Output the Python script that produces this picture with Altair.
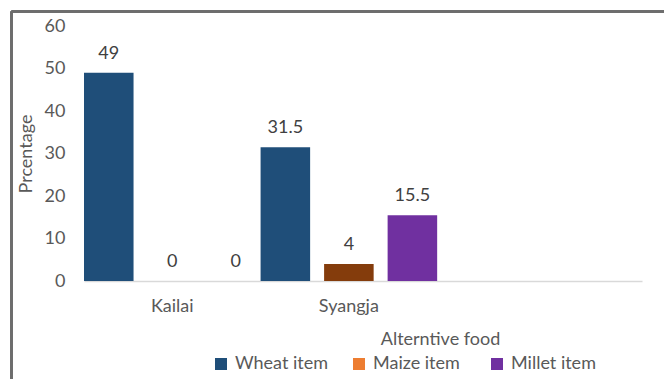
import altair as alt
import pandas as pd

districts = ["Kailai", "Syangja"]
series = ["Wheat item", "Maize item", "Millet item"]
wheat = [49, 31.5]
maize = [0, 4]
millet = [0, 15.5]

bar_colors = ["#1F4E79", "#843C0C", "#7030A0"]
legend_colors = ["#1F4E79", "#ED7D31", "#7030A0"]

rows = []
for i, d in enumerate(districts):
    for s, vals in zip(series, [wheat, maize, millet]):
        rows.append({"district": d, "series": s, "legend_key": s, "value": vals[i]})
df = pd.DataFrame(rows)

FONT = "Lato"
TXT = "#595959"

x_enc = alt.X(
    "district:N",
    sort=districts,
    scale=alt.Scale(domain=districts, paddingInner=0, paddingOuter=0.58, align=0),
    axis=alt.Axis(
        title="Alterntive food",
        titleX=356, titleY=58, titleBaseline="middle", titleAlign="center",
        titleFontSize=18, titleFontWeight="normal", titleColor=TXT, titleFont=FONT,
        labelAngle=0, labelFontSize=18, labelColor=TXT, labelFont=FONT,
        labelPadding=16, ticks=False, domainColor="#D9D9D9", domainWidth=1.5,
        grid=False,
    ),
)
xoff_enc = alt.XOffset(
    "series:N", sort=series,
    scale=alt.Scale(domain=series, paddingInner=0.22, paddingOuter=0),
)
y_enc = alt.Y(
    "value:Q",
    scale=alt.Scale(domain=[0, 60], nice=False),
    axis=alt.Axis(
        title="Prcentage", values=[0, 10, 20, 30, 40, 50, 60],
        titleX=-58, titleY=127.5, titleAngle=-90, titleBaseline="middle", titleAlign="center",
        titleFontSize=18, titleFontWeight="normal", titleColor=TXT, titleFont=FONT,
        labelFontSize=18, labelColor=TXT, labelFont=FONT, labelPadding=19,
        domain=False, ticks=False, grid=False,
    ),
)

base = alt.Chart(df)

bars = base.mark_bar().encode(
    x=x_enc, xOffset=xoff_enc, y=y_enc,
    fill=alt.Fill("series:N", scale=alt.Scale(domain=series, range=bar_colors), legend=None),
)

labels = base.mark_text(baseline="alphabetic", dy=-14, fontSize=18, font=FONT, color="#404040").encode(
    x=x_enc, xOffset=xoff_enc, y=y_enc, text=alt.Text("value:Q"),
)

legend_layer = base.mark_square(opacity=0).encode(
    color=alt.Color(
        "legend_key:N", sort=series,
        scale=alt.Scale(domain=series, range=legend_colors),
        legend=alt.Legend(
            title=None, orient="none", legendX=128, legendY=329, direction="horizontal",
            symbolType="square", symbolSize=144, symbolOpacity=1, symbolStrokeWidth=0,
            labelFontSize=18, labelColor=TXT, labelFont=FONT, labelOffset=5,
            columnPadding=21, padding=0, gridAlign="all",
        ),
    ),
)

frame_left = base.mark_rule(color="#6d6d6d", strokeWidth=2).encode(
    x=alt.value(-72.5), y=alt.value(-14.5), y2=alt.value(420)
)
frame_top = base.mark_rule(color="#6d6d6d", strokeWidth=2).encode(
    x=alt.value(-72.5), x2=alt.value(700), y=alt.value(-14.5)
)

chart = alt.layer(frame_left, frame_top, bars, labels, legend_layer).properties(
    width=558, height=255,
    autosize=alt.AutoSizeParams(type="none"),
    padding={"left": 84, "top": 26, "right": 22, "bottom": 98},
    background="white",
).resolve_scale(color="independent", fill="independent").configure_view(stroke=None)

chart.save("out.html", embed_options={"renderer": "svg", "actions": False})
